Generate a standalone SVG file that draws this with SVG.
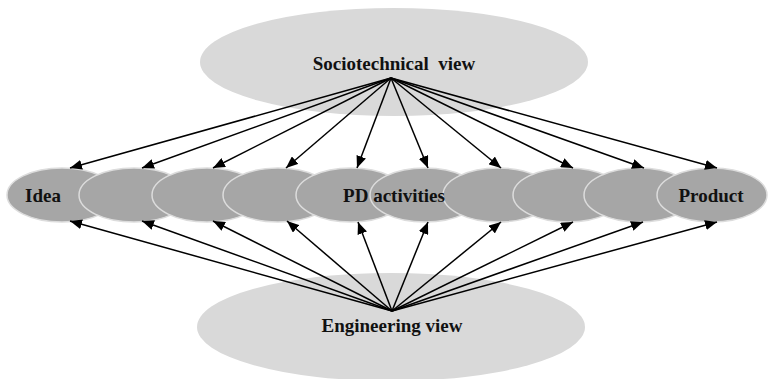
<svg xmlns="http://www.w3.org/2000/svg" width="770" height="379" viewBox="0 0 770 379">
<style>
.view{fill:#d9d9d9;stroke:none}
.pd{fill:#a6a6a6;stroke:#dcdcdc;stroke-width:1.5}
.t{font-family:"Liberation Serif",serif;font-weight:bold;font-size:19px;fill:#111;text-anchor:middle}
.c line{stroke:#000;stroke-width:1.5;marker-end:url(#ah)}
</style>
<defs>
<marker id="ah" markerWidth="12" markerHeight="10" refX="12" refY="5" orient="auto" markerUnits="userSpaceOnUse">
<path d="M0,0 L12,5 L0,10 z" fill="#000"/>
</marker>
</defs>
<g id="sociotechnical"><ellipse class="view" cx="394" cy="62" rx="194" ry="54"/></g>
<g id="engineering"><ellipse class="view" cx="391" cy="327" rx="194" ry="54"/></g>
<g id="n0"><ellipse class="pd" cx="62" cy="195" rx="55" ry="27"/></g>
<g id="n1"><ellipse class="pd" cx="134" cy="195" rx="55" ry="27"/></g>
<g id="n2"><ellipse class="pd" cx="207" cy="195" rx="55" ry="27"/></g>
<g id="n3"><ellipse class="pd" cx="278" cy="195" rx="55" ry="27"/></g>
<g id="n4"><ellipse class="pd" cx="351" cy="195" rx="55" ry="27"/></g>
<g id="n5"><ellipse class="pd" cx="425" cy="195" rx="55" ry="27"/></g>
<g id="n6"><ellipse class="pd" cx="498" cy="195" rx="55" ry="27"/></g>
<g id="n7"><ellipse class="pd" cx="568" cy="195" rx="55" ry="27"/></g>
<g id="n8"><ellipse class="pd" cx="639" cy="195" rx="55" ry="27"/></g>
<g id="n9"><ellipse class="pd" cx="712" cy="195" rx="55" ry="27"/></g>
<g id="labels">
<text class="t" x="394" y="70" xml:space="preserve">Sociotechnical  view</text>
<text class="t" x="392" y="332">Engineering view</text>
<text class="t" x="43" y="202">Idea</text>
<text class="t" x="394" y="202">PD activities</text>
<text class="t" x="711" y="202">Product</text>
</g>
<g id="connectors" class="c">
<line x1="391" y1="78" x2="70" y2="168"/>
<line x1="391" y1="78" x2="142" y2="168"/>
<line x1="391" y1="78" x2="213" y2="168"/>
<line x1="391" y1="78" x2="286" y2="168"/>
<line x1="391" y1="78" x2="357" y2="168"/>
<line x1="391" y1="78" x2="428" y2="168"/>
<line x1="391" y1="78" x2="501" y2="168"/>
<line x1="391" y1="78" x2="573" y2="168"/>
<line x1="391" y1="78" x2="644" y2="168"/>
<line x1="391" y1="78" x2="717" y2="168"/>
<line x1="392" y1="311" x2="70" y2="221"/>
<line x1="392" y1="311" x2="142" y2="221"/>
<line x1="392" y1="311" x2="213" y2="221"/>
<line x1="392" y1="311" x2="287" y2="221"/>
<line x1="392" y1="311" x2="358" y2="222"/>
<line x1="392" y1="311" x2="428" y2="222"/>
<line x1="392" y1="311" x2="501" y2="222"/>
<line x1="392" y1="311" x2="573" y2="222"/>
<line x1="392" y1="311" x2="643" y2="222"/>
<line x1="392" y1="311" x2="717" y2="222"/>
</g>
</svg>
